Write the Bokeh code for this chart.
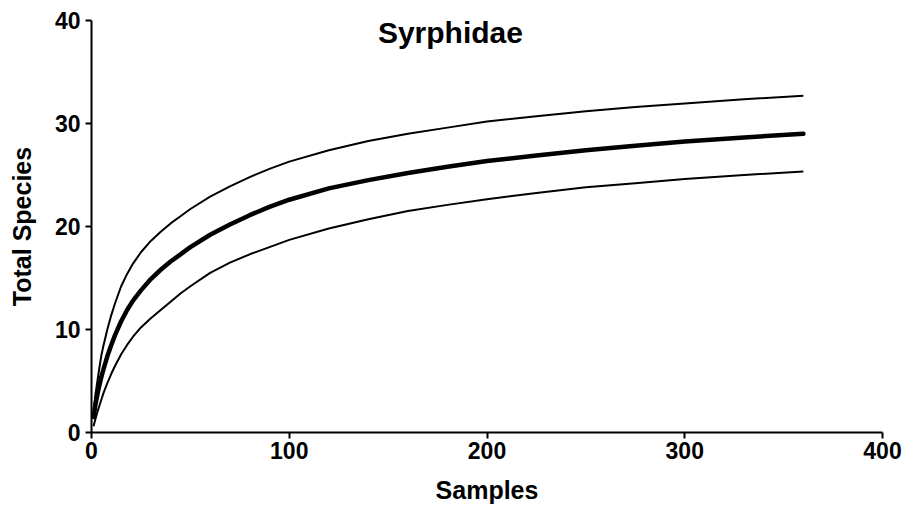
from bokeh.plotting import figure
from bokeh.models import Range1d, FixedTicker, Label
from bokeh.embed import file_html
from bokeh.resources import INLINE

samples = [1, 2, 3, 4, 5, 6, 8, 10, 12, 15, 18, 21, 25, 30, 35, 40, 45, 50, 60, 70,
           80, 90, 100, 120, 140, 160, 180, 200, 225, 250, 275, 300, 330, 360]
mean_species = [1.5, 2.7, 3.7, 4.6, 5.4, 6.1, 7.4, 8.5, 9.5, 10.8, 11.9, 12.8, 13.8,
                14.9, 15.8, 16.6, 17.3, 18.0, 19.2, 20.2, 21.1, 21.9, 22.6, 23.7,
                24.5, 25.2, 25.8, 26.35, 26.9, 27.4, 27.85, 28.25, 28.65, 29.0]
upper_ci = [2.0, 3.7, 5.0, 6.3, 7.5, 8.4, 10.0, 11.4, 12.6, 14.2, 15.4, 16.4, 17.5,
            18.6, 19.5, 20.3, 21.0, 21.7, 22.9, 23.9, 24.8, 25.6, 26.3, 27.4,
            28.3, 29.0, 29.6, 30.2, 30.7, 31.2, 31.6, 31.95, 32.35, 32.7]
lower_ci = [0.6, 1.3, 2.0, 2.6, 3.2, 3.8, 4.8, 5.7, 6.5, 7.6, 8.5, 9.3, 10.2,
            11.1, 11.9, 12.7, 13.5, 14.2, 15.5, 16.5, 17.3, 18.0, 18.7, 19.8,
            20.7, 21.5, 22.1, 22.65, 23.25, 23.8, 24.2, 24.6, 25.0, 25.35]
x_ticks = [0, 100, 200, 300, 400]
y_ticks = [0, 10, 20, 30, 40]
title_text = "Syrphidae"
x_title = "Samples"
y_title = "Total Species"

FONT = "Liberation Sans"

p = figure(width=908, height=517, output_backend="svg", toolbar_location=None,
           x_range=Range1d(0, 400), y_range=Range1d(0, 40),
           min_border_left=91, min_border_right=26, min_border_top=20, min_border_bottom=85)
p.outline_line_color = None
p.grid.visible = False

p.line(samples, upper_ci, line_color="black", line_width=2)
p.line(samples, lower_ci, line_color="black", line_width=2)
p.line(samples, mean_species, line_color="black", line_width=4.5, line_cap="round")

for ax, ticks in ((p.xaxis[0], x_ticks), (p.yaxis[0], y_ticks)):
    ax.ticker = FixedTicker(ticks=ticks)
    ax.minor_tick_line_color = None
    ax.major_tick_in = 0
    ax.major_tick_out = 6
    ax.major_tick_line_width = 2
    ax.axis_line_width = 2
    ax.axis_line_color = "black"
    ax.major_tick_line_color = "black"
    ax.major_label_text_font = FONT
    ax.major_label_text_font_style = "bold"
    ax.major_label_text_font_size = "23px"
    ax.major_label_text_color = "black"
    ax.axis_label_text_font = FONT
    ax.axis_label_text_font_style = "bold"
    ax.axis_label_text_font_size = "25px"
    ax.axis_label_text_color = "black"

p.xaxis.axis_label = x_title
p.yaxis.axis_label = y_title
p.xaxis.major_label_standoff = 3
p.yaxis.major_label_standoff = 5
p.xaxis.axis_label_standoff = 14
p.yaxis.axis_label_standoff = 16

p.add_layout(Label(x=181.5, y=38.8, text=title_text, text_align="center",
                   text_baseline="middle", text_font=FONT, text_font_style="bold",
                   text_font_size="30px", text_color="black"))

open("out.html", "w").write(file_html(p, INLINE))
